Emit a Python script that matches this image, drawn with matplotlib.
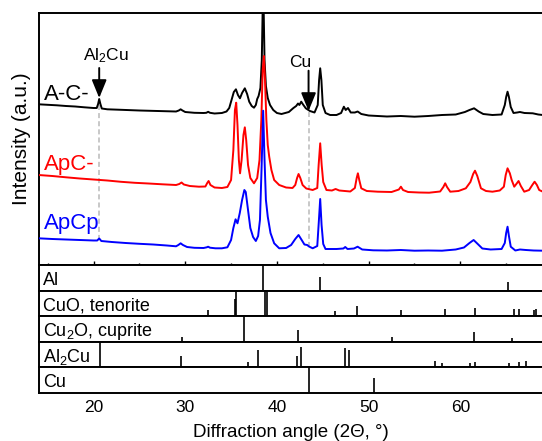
import matplotlib
matplotlib.use("Agg")
import matplotlib.pyplot as plt
from matplotlib.ticker import MultipleLocator

plt.rcParams['font.family'] = ['Liberation Sans', 'DejaVu Sans']
plt.rcParams['mathtext.fontset'] = 'custom'
plt.rcParams['mathtext.rm'] = 'Liberation Sans'
plt.rcParams['mathtext.it'] = 'Liberation Sans:italic'
plt.rcParams['mathtext.bf'] = 'Liberation Sans:bold'

# ---------------- data ----------------
# A-C- (black), displayed with vertical offset (arbitrary units)
acm_x = [14.0, 15.0, 16.0, 17.0, 18.0, 19.0, 20.0, 20.35, 20.5, 20.62, 20.75, 20.9, 21.5, 23.0, 25.0,
         27.0, 29.0, 29.3, 29.5, 29.7, 30.0, 31.0, 32.0, 32.3, 32.5, 32.7, 33.2, 34.0, 34.5, 34.8,
         35.05, 35.3, 35.53, 35.75, 35.97, 36.2, 36.5, 36.75, 36.98, 37.25, 37.5, 37.7, 37.85, 38.0,
         38.2, 38.35, 38.5, 38.65, 38.8, 39.0, 39.25, 39.6, 40.0, 40.5, 41.3, 41.8, 42.1, 42.3, 42.45,
         42.65, 42.85, 43.15, 43.6, 44.1, 44.45, 44.6, 44.72, 44.85, 45.0, 45.3, 45.8, 46.5, 47.0,
         47.3, 47.5, 47.75, 48.05, 48.5, 48.8, 49.2, 50.0, 52.0, 53.5, 55.0, 56.5, 58.0, 59.5, 60.5,
         61.0, 61.5, 62.0, 62.5, 63.5, 64.5, 64.85, 65.0, 65.15, 65.3, 65.5, 65.8, 66.2, 66.5, 67.0,
         67.9, 68.5, 69.0]
acm_y = [161.0, 160.5, 160.0, 159.3, 158.8, 158.0, 157.3, 157.3, 161.3, 166.3, 161.3, 156.8, 156.0, 155.5, 154.8,
         154.3, 153.8, 154.8, 156.0, 154.8, 153.3, 152.5, 152.3, 152.5, 153.5, 152.5, 151.8, 152.3, 153.8, 157.3,
         165.3, 173.3, 176.0, 170.3, 167.0, 172.3, 177.0, 171.3, 163.6, 159.3, 157.6, 160.3, 166.3, 169.3,
         177.3, 205.0, 285.0, 205.0, 179.3, 167.3, 160.3, 155.3, 152.3, 151.3, 153.3, 157.3, 159.3, 161.8, 160.3,
         163.6, 160.8, 157.0, 154.3, 152.8, 160.3, 185.3, 197.0, 185.3, 160.3, 152.3, 150.3, 150.3, 152.3,
         158.6, 155.3, 157.3, 152.8, 152.8, 153.8, 151.3, 149.8, 148.8, 149.3, 148.6, 149.3, 150.3, 150.8, 153.3,
         155.3, 157.0, 153.8, 151.3, 150.3, 150.8, 160.3, 168.3, 173.6, 168.3, 158.3, 152.3, 152.8, 153.3, 152.3,
         152.0, 150.8, 150.3]

# ApC- (red)
apcm_x = [14.0, 15.5, 17.0, 18.5, 20.0, 21.5, 23.0, 24.5, 26.0, 27.5, 29.0, 29.35, 29.6, 29.85, 30.5,
          31.5, 32.2, 32.4, 32.55, 32.75, 33.2, 34.0, 34.6, 35.0, 35.25, 35.42, 35.56, 35.7, 35.85,
          35.98, 36.15, 36.35, 36.5, 36.65, 36.85, 37.1, 37.5, 37.85, 38.1, 38.3, 38.45, 38.58, 38.7,
          38.85, 39.0, 39.16, 39.4, 39.7, 40.25, 41.0, 41.7, 42.0, 42.2, 42.36, 42.55, 42.8, 43.2, 43.9,
          44.4, 44.55, 44.72, 44.88, 45.05, 45.4, 46.0, 46.4, 46.8, 48.0, 48.5, 48.7, 48.83, 48.98, 49.2,
          49.8, 51.0, 52.5, 53.3, 53.52, 53.75, 54.3, 55.5, 56.6, 57.8, 58.15, 58.35, 58.55, 58.9, 59.8,
          60.6, 61.1, 61.4, 61.6, 61.85, 62.25, 62.8, 63.5, 64.3, 64.75, 64.95, 65.15, 65.4, 65.6, 65.88,
          66.15, 66.35, 66.6, 66.97, 67.5, 67.85, 68.1, 68.35, 68.6, 69.0]
apcm_y = [90.3, 89.3, 88.0, 86.8, 85.8, 84.8, 83.5, 82.5, 81.8, 81.0, 80.3, 81.3, 82.8, 80.8, 79.3,
          78.6, 78.8, 82.3, 84.3, 80.3, 77.8, 77.3, 78.3, 85.3, 115.3, 155.3, 162.6, 140.3, 105.3,
          92.0, 105.3, 130.3, 138.0, 125.3, 100.3, 87.3, 82.0, 87.3, 105.3, 145.3, 195.3, 209.3, 185.3,
          145.3, 120.3, 108.6, 95.3, 85.3, 80.3, 77.8, 77.3, 80.3, 87.3, 91.3, 87.3, 80.3, 76.8, 75.3,
          77.3, 100.3, 122.0, 100.3, 83.3, 75.3, 74.8, 76.3, 74.8, 73.8, 77.3, 87.3, 92.0, 85.3, 77.0,
          74.3, 73.6, 73.3, 75.8, 78.6, 75.3, 73.3, 72.8, 72.6, 73.8, 78.3, 82.0, 78.3, 73.6, 74.3,
          77.0, 83.3, 91.3, 94.6, 89.3, 77.0, 74.3, 73.6, 74.8, 78.6, 90.3, 97.0, 92.0, 85.3, 78.6,
          81.8, 84.3, 79.3, 73.6, 75.3, 80.3, 83.6, 80.3, 75.3, 73.6]

# ApCp (blue)
apcp_x = [14.0, 15.5, 17.0, 18.5, 20.0, 20.4, 20.62, 20.85, 22.0, 23.5, 25.0, 26.5, 28.0, 29.0, 29.25,
          29.5, 29.75, 30.2, 31.0, 32.0, 32.35, 32.5, 32.7, 33.3, 34.0, 34.6, 35.0, 35.25, 35.49, 35.7,
          35.95, 36.2, 36.45, 36.6, 36.85, 37.1, 37.4, 37.7, 37.95, 38.15, 38.32, 38.5, 38.65, 38.8,
          39.0, 39.3, 39.7, 40.25, 41.0, 41.55, 42.0, 42.36, 42.7, 43.0, 43.3, 43.5, 43.9, 44.4, 44.58,
          44.72, 44.87, 45.05, 45.3, 46.5, 47.25, 47.45, 47.7, 48.4, 48.8, 49.3, 50.5, 52.0, 53.5, 55.0,
          56.5, 58.0, 59.5, 60.4, 61.0, 61.45, 61.9, 62.4, 63.3, 64.5, 64.85, 65.0, 65.15, 65.3, 65.5,
          66.0, 66.5, 67.15, 68.0, 69.0]
apcp_y = [27.0, 26.3, 25.8, 25.3, 24.8, 24.8, 26.8, 24.3, 23.3, 22.3, 21.5, 20.8, 19.8, 19.0, 20.3,
          22.0, 20.3, 18.3, 17.5, 17.3, 18.0, 18.6, 17.6, 17.0, 17.0, 18.0, 25.3, 37.3, 46.0, 42.0,
          52.3, 65.3, 75.3, 73.3, 55.3, 37.3, 28.3, 24.3, 29.3, 45.3, 95.3, 154.6, 105.3, 65.3,
          48.6, 32.3, 22.0, 17.0, 17.3, 20.3, 26.3, 30.3, 25.3, 20.8, 20.3, 18.8, 17.0, 19.3, 45.3,
          66.3, 40.3, 21.3, 16.3, 16.3, 16.8, 18.3, 16.3, 16.8, 18.6, 15.8, 15.0, 14.8, 15.3, 14.6,
          14.8, 14.6, 15.8, 17.8, 22.3, 25.3, 21.3, 16.8, 15.8, 16.3, 22.3, 32.3, 38.6, 29.3, 18.6,
          14.8, 15.8, 15.3, 14.8, 14.6]

series_names = ['A-C-', 'ApC-', 'ApCp']
series_colors = ['black', '#ff0000', '#0000ff']
series_label_y = [165.3, 95.3, 36.0]

# reference patterns (position in 2-theta, relative intensity)
ref_names = ['Al', 'CuO, tenorite', 'Cu$_2$O, cuprite', 'Al$_2$Cu', 'Cu']
ref_pos = [
    [38.47, 44.72, 65.15],
    [32.51, 35.42, 35.54, 38.74, 38.91, 46.28, 48.74, 53.5, 58.35, 61.63, 65.88, 66.37, 68.0, 68.24],
    [29.6, 36.43, 42.32, 52.5, 61.44, 65.63],
    [20.7, 29.53, 36.87, 37.96, 42.14, 42.65, 47.41, 47.88, 57.23, 57.99, 61.11, 61.55, 65.3, 66.39, 67.15],
    [43.45, 50.6],
]
ref_int = [
    [1.0, 0.56, 0.36],
    [0.25, 0.68, 1.0, 1.0, 1.0, 0.22, 0.42, 0.25, 0.30, 0.33, 0.28, 0.29, 0.24, 0.30],
    [0.2, 1.0, 0.47, 0.17, 0.37, 0.16],
    [1.0, 0.44, 0.19, 0.68, 0.44, 0.79, 0.75, 0.68, 0.26, 0.16, 0.16, 0.22, 0.16, 0.22, 0.24],
    [1.0, 0.57],
]

marker_labels = ['Al$_2$Cu', 'Cu']
marker_pos = [20.62, 43.45]
marker_text_x = [21.4, 42.55]
marker_text_y = [205.3, 198.0]
marker_arrow_top = [197.3, 194.6]
marker_arrow_tip = [167.3, 154.3]
marker_dash_bottom = [25.0, 18.6]

# ---------------- layout ----------------
W, H = 542, 441
fig = plt.figure(figsize=(W / 100, H / 100), dpi=100)
x_left = 38.5
px_per_deg = 9.17
xmin, xmax = 14.0, 69.0
x_right = x_left + (xmax - xmin) * px_per_deg
main_top, main_bot = 12.7, 265.3
panel_h = 25.48
spine_lw = 1.4

ax = fig.add_axes([x_left / W, 1 - main_bot / H, (x_right - x_left) / W, (main_bot - main_top) / H])
ax.set_xlim(xmin, xmax)
ax.set_ylim(0, main_bot - main_top)

for xs, ys, c in zip([acm_x, apcm_x, apcp_x], [acm_y, apcm_y, apcp_y], series_colors):
    ax.plot(xs, ys, color=c, lw=1.4, solid_joinstyle='round', zorder=3)

for name, c, yb in zip(series_names, series_colors, series_label_y):
    ax.text(14.55, yb, name, color=c, fontsize=16, ha='left', va='baseline', zorder=5)

for lab, xp, tx, ty, atop, atip, db in zip(marker_labels, marker_pos, marker_text_x, marker_text_y,
                                          marker_arrow_top, marker_arrow_tip, marker_dash_bottom):
    ax.plot([xp, xp], [db, atip - 1], color='#c4c4c4', lw=1.3, dashes=(2.8, 1.7), zorder=2)
    ax.annotate('', xy=(xp, atip), xytext=(xp, atop),
                arrowprops=dict(arrowstyle='-|>,head_length=1.1,head_width=0.45',
                                mutation_scale=10, color='black', lw=1.4,
                                shrinkA=0, shrinkB=0), zorder=6)
    ax.text(tx, ty, lab, fontsize=12.5, ha='center', va='baseline', zorder=6)

ax.xaxis.set_major_locator(MultipleLocator(10))
ax.xaxis.set_minor_locator(MultipleLocator(5))
ax.tick_params(axis='x', which='major', direction='in', length=3.1, width=1.0, labelbottom=False)
ax.tick_params(axis='x', which='minor', direction='in', length=1.7, width=1.0)
ax.set_yticks([])
ax.spines['right'].set_visible(False)
for s in ['left', 'top', 'bottom']:
    ax.spines[s].set_linewidth(spine_lw)

fig.text(22 / W, 1 - 138.3 / H, 'Intensity (a.u.)', rotation=90, ha='center', va='center', fontsize=15)

for i, (name, pos, inten) in enumerate(zip(ref_names, ref_pos, ref_int)):
    top = main_bot + i * panel_h
    pax = fig.add_axes([x_left / W, 1 - (top + panel_h) / H, (x_right - x_left) / W, panel_h / H])
    pax.set_xlim(xmin, xmax)
    pax.set_ylim(0, 1)
    pax.vlines(pos, 0, inten, color='black', lw=1.2)
    pax.text(14.45, 0.22, name, fontsize=13, ha='left', va='baseline')
    pax.set_yticks([])
    pax.spines['right'].set_visible(False)
    for s in ['left', 'top', 'bottom']:
        pax.spines[s].set_linewidth(spine_lw)
    pax.xaxis.set_major_locator(MultipleLocator(10))
    if i == len(ref_names) - 1:
        pax.tick_params(axis='x', which='major', length=0, pad=5, labelsize=12.5)
    else:
        pax.tick_params(axis='x', which='both', length=0, labelbottom=False)

fig.text((x_left + 252.2) / W, 1 - 437 / H, 'Diffraction angle (2\u0398, \u00b0)', ha='center',
         va='baseline', fontsize=13.5)

fig.savefig('out.png', dpi=100)
